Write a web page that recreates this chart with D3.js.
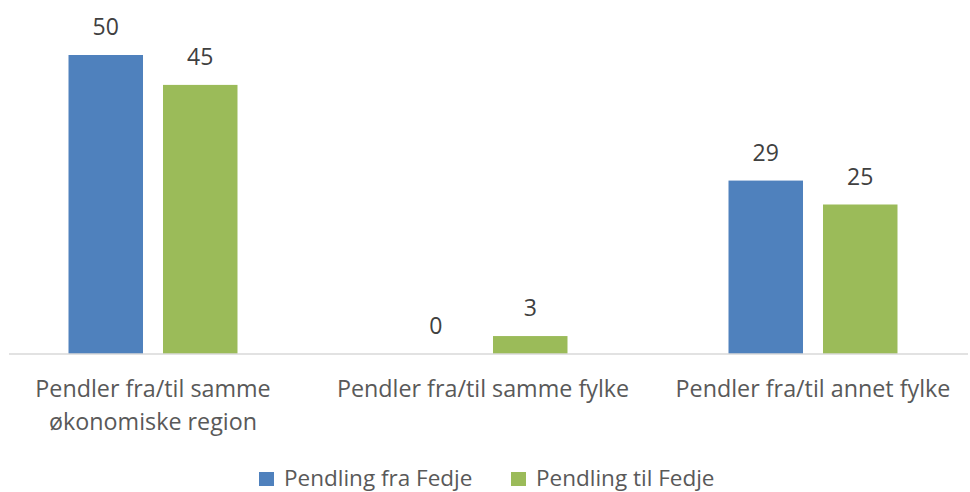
<!DOCTYPE html>
<html><head><meta charset="utf-8">
<script src="https://cdn.jsdelivr.net/npm/d3@7"></script>
<style>body{margin:0;background:#fff}svg{display:block}</style>
</head><body>
<script>
const categories = [["Pendler fra/til samme", "økonomiske region"], ["Pendler fra/til samme fylke"], ["Pendler fra/til annet fylke"]];
const seriesNames = ["Pendling fra Fedje", "Pendling til Fedje"];
const fraValues = [50, 0, 29];
const tilValues = [45, 3, 25];
const colors = ["#4F81BD", "#9BBB59"];

const W = 970, H = 492;
const font = "'Open Sans', sans-serif";
const svg = d3.select("body").append("svg").attr("width", W).attr("height", H);

const x0 = d3.scaleBand().domain(d3.range(categories.length)).range([-12, 978]).paddingInner(0).paddingOuter(0);
const x1 = d3.scaleBand().domain(d3.range(seriesNames.length)).range([0, x0.bandwidth()]).paddingInner(0.2116).paddingOuter(0.852);
const y = d3.scaleLinear().domain([0, 50]).range([354, 55]);

const data = categories.map((c, i) => ({i, vals: [fraValues[i], tilValues[i]]}));

const g = svg.selectAll("g.cat").data(data).join("g").attr("transform", d => `translate(${x0(d.i)},0)`);
g.selectAll("rect").data(d => d.vals.map((v, s) => ({v, s}))).join("rect")
  .attr("x", d => x1(d.s)).attr("width", x1.bandwidth())
  .attr("y", d => y(d.v)).attr("height", d => y(0) - y(d.v))
  .attr("fill", d => colors[d.s]);
g.selectAll("text.val").data(d => d.vals.map((v, s) => ({v, s}))).join("text")
  .attr("class", "val")
  .attr("x", d => x1(d.s) + x1.bandwidth() / 2).attr("y", d => y(d.v) - 20)
  .attr("text-anchor", "middle").attr("font-family", font).attr("font-size", 23)
  .attr("fill", "#404040").text(d => d.v);

// axis line
svg.append("line").attr("x1", 9).attr("x2", 968).attr("y1", y(0)).attr("y2", y(0))
  .attr("stroke", "#D9D9D9").attr("stroke-width", 1.3);

// category labels
const xAxis = d3.axisBottom(x0).tickSize(0).tickFormat(() => "");
const ax = svg.append("g").attr("transform", `translate(0,${y(0)})`).call(xAxis);
ax.select(".domain").remove();
ax.selectAll(".tick").each(function(i) {
  const t = d3.select(this).append("text").attr("text-anchor", "middle")
    .attr("font-family", font).attr("font-size", 23.3).attr("fill", "#595959");
  categories[i].forEach((line, k) => {
    t.append("tspan").attr("x", 0).attr("y", 43 + k * 33).text(line);
  });
});

// legend
const legendX = [259, 511];
const lg = svg.append("g");
seriesNames.forEach((n, s) => {
  lg.append("rect").attr("x", legendX[s]).attr("y", 472).attr("width", 15).attr("height", 14).attr("fill", colors[s]);
  lg.append("text").attr("x", legendX[s] + 25).attr("y", 486).attr("font-family", font).attr("font-size", 22.5)
    .attr("fill", "#595959").text(n);
});
</script>
</body></html>
